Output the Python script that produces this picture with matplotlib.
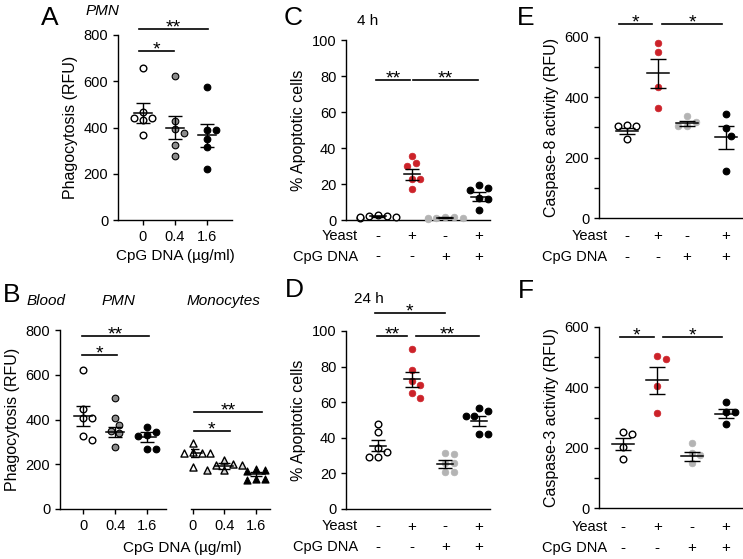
import numpy as np
import matplotlib.pyplot as plt
from matplotlib.transforms import blended_transform_factory

plt.rcParams['font.family'] = ['Liberation Sans', 'DejaVu Sans']
plt.rcParams['axes.linewidth'] = 1.0

W, H = 743, 559

# ---- data ----
CPG_DOSES = ['0', '0.4', '1.6']
YEAST_SIGNS = ['-', '+', '-', '+']
CPG_SIGNS = ['-', '-', '+', '+']

# A: PMN phagocytosis
A_VALUES = [[659, 466, 442, 432, 442, 368],
            [624, 428, 378, 392, 324, 275],
            [574, 389, 389, 349, 316, 220]]
A_MEAN = [463, 400, 366]
A_SEM = [45, 50, 49]

# B: blood PMN / monocytes
B_PMN_VALUES = [[621, 445, 408, 408, 308, 328],
                [495, 405, 375, 350, 340, 278],
                [368, 344, 331, 328, 268, 268]]
B_PMN_MEAN = [417, 346, 323]
B_PMN_SEM = [45, 22, 22]
B_MONO_VALUES = [[294, 255, 249, 249, 249, 189],
                 [219, 200, 197, 197, 174, 174],
                 [178, 175, 170, 135, 132, 130]]
B_MONO_MEAN = [252, 192, 157]
B_MONO_SEM = [18, 12, 10]

# C: % apoptotic cells, 4 h
C_VALUES = [[2.5, 1.5, 2, 1, 1.5, 3],
            [35.5, 31.5, 30, 23, 23, 17.5],
            [1.5, 1, 0.8, 1.2, 1.5, 1],
            [19.5, 18, 16.5, 12, 11.5, 5.5]]
C_MEAN = [2, 25.4, 1.2, 12.8]
C_SEM = [0.5, 3, 0.2, 2.5]

# D: % apoptotic cells, 24 h
D_VALUES = [[47.8, 43, 34, 32, 29, 29],
            [89.9, 78, 72, 69.7, 65.3, 62.5],
            [31.6, 30.7, 25.6, 25.6, 20.6, 20.6],
            [56.5, 55, 52.5, 52, 42, 42]]
D_MEAN = [35.6, 72.8, 25.3, 49.6]
D_SEM = [3.2, 4.2, 2, 2.9]

# E: caspase-8
E_VALUES = [[308, 305, 305, 262],
            [579, 549, 435, 366],
            [338, 319, 306, 306],
            [345, 297, 272, 157]]
E_MEAN = [288, 480, 314, 267]
E_SEM = [10, 48, 8, 38]

# F: caspase-3
F_VALUES = [[253, 245, 203, 163],
            [504, 494, 404, 316],
            [216, 183, 176, 150],
            [352, 319, 319, 278]]
F_MEAN = [212, 424, 172, 312]
F_SEM = [20, 45, 15, 15]

# ---- styles ----
RED = '#cc2229'
OPEN = dict(facecolor='white', edgecolor='black', linewidths=1.0)
GREY_EDGE = dict(facecolor='#8c8c8c', edgecolor='black', linewidths=0.8)
BLACK = dict(facecolor='black', edgecolor='black', linewidths=0.8)
REDF = dict(facecolor=RED, edgecolor=RED, linewidths=0.5)
GREYF = dict(facecolor='#b4b4b4', edgecolor='#b4b4b4', linewidths=0.5)
LIGHT_TRI = dict(facecolor='#d8d8d8', edgecolor='black', linewidths=1.0)

fig = plt.figure(figsize=(W / 100, H / 100), dpi=100)


def make_axes(x0, x1, y_top, y_bot):
    ax = fig.add_axes([x0 / W, 1 - y_bot / H, (x1 - x0) / W, (y_bot - y_top) / H])
    ax.spines['top'].set_visible(False)
    ax.spines['right'].set_visible(False)
    ax.tick_params(axis='both', labelsize=10.5, length=3.5, width=1, direction='out')
    return ax


def swarm(ax, x, vals, diam):
    t = ax.transData
    ys = t.transform(np.column_stack([np.full(len(vals), x), vals]))[:, 1]
    ppu = t.transform((1, 0))[0] - t.transform((0, 0))[0]
    placed = []
    offs = np.zeros(len(vals))
    for i in np.argsort(-ys):
        for k in [0, 1, -1, 2, -2, 3, -3, 4, -4]:
            dx = k * diam * 0.55
            if all((dx - px) ** 2 + (ys[i] - py) ** 2 >= (diam * 0.95) ** 2 for px, py in placed):
                break
        placed.append((dx, ys[i]))
        offs[i] = dx / ppu
    return offs


def draw_groups(ax, positions, values, means, sems, styles, marker='o', size=23,
                half_px=9, cap=5, diam=8):
    ppu = ax.transData.transform((1, 0))[0] - ax.transData.transform((0, 0))[0]
    for x, vals, m, s, st in zip(positions, values, means, sems, styles):
        offs = swarm(ax, x, vals, diam)
        ax.scatter(x + offs, vals, s=size, marker=marker, zorder=3, clip_on=False, **st)
        hw = half_px / ppu
        ax.plot([x - hw, x + hw], [m, m], color='black', lw=1.1, zorder=4)
        ax.errorbar(x, m, yerr=s, color='black', lw=1.0, capsize=cap, capthick=1.0, zorder=4)


def sig(ax, x0, x1, y, stars):
    ax.plot([x0, x1], [y, y], color='black', lw=1.2, clip_on=False)
    ax.annotate(stars, xy=((x0 + x1) / 2, y), xytext=(0, -2.5), textcoords='offset points',
                ha='center', va='baseline', fontsize=14, annotation_clip=False)


def sign_rows(ax, positions, label_x, y_yeast, y_cpg):
    tr = blended_transform_factory(ax.transData, fig.transFigure)
    for lab, yy, signs in [('Yeast', y_yeast, YEAST_SIGNS), ('CpG DNA', y_cpg, CPG_SIGNS)]:
        ax.text(label_x, 1 - yy / H, lab, transform=tr, ha='right', va='center', fontsize=10.5)
        for x, s in zip(positions, signs):
            ax.text(x, 1 - yy / H, s, transform=tr, ha='center', va='center', fontsize=11)


def ftext(x, y, s, size, **kw):
    fig.text(x / W, 1 - y / H, s, fontsize=size, va='baseline', **kw)


# ---- A ----
axA = make_axes(118, 232, 35, 220)
axA.set_xlim(-0.78, 2.78)
axA.set_ylim(0, 800)
axA.set_yticks([0, 200, 400, 600, 800])
axA.set_xticks([0, 1, 2])
axA.set_xticklabels(CPG_DOSES)
axA.set_ylabel('Phagocytosis (RFU)', fontsize=11.5)
axA.set_xlabel('CpG DNA (\u00b5g/ml)', fontsize=11)
draw_groups(axA, [0, 1, 2], A_VALUES, A_MEAN, A_SEM, [OPEN, GREY_EDGE, BLACK])
sig(axA, -0.12, 0.97, 731, '*')
sig(axA, -0.12, 2.03, 826, '**')

# ---- B ----
axB = make_axes(60, 166, 330, 509)
axB.set_xlim(-0.72, 2.59)
axB.set_ylim(0, 800)
axB.set_yticks([0, 200, 400, 600, 800])
axB.set_xticks([0, 1, 2])
axB.set_xticklabels(CPG_DOSES)
axB.set_ylabel('Phagocytosis (RFU)', fontsize=11.5)
draw_groups(axB, [0, 1, 2], B_PMN_VALUES, B_PMN_MEAN, B_PMN_SEM, [OPEN, GREY_EDGE, BLACK])
sig(axB, -0.03, 1.06, 688, '*')
sig(axB, -0.03, 2.06, 775, '**')

axB2 = make_axes(191, 270, 330, 509)
axB2.spines['left'].set_visible(False)
axB2.set_xlim(-0.06, 2.44)
axB2.set_ylim(0, 800)
axB2.set_yticks([])
axB2.set_xticks([0, 1, 2])
axB2.set_xticklabels(CPG_DOSES)
draw_groups(axB2, [0, 1, 2], B_MONO_VALUES, B_MONO_MEAN, B_MONO_SEM,
            [OPEN, LIGHT_TRI, BLACK], marker='^', size=26, half_px=9, cap=4)
sig(axB2, 0.03, 1.17, 349, '*')
sig(axB2, 0.03, 2.19, 435, '**')
ftext(182, 552, 'CpG DNA (\u00b5g/ml)', 11, ha='center')

# ---- C ----
axC = make_axes(346, 490, 40, 220)
axC.set_xlim(-0.95, 3.33)
axC.set_ylim(0, 100)
axC.set_yticks([0, 20, 40, 60, 80, 100])
axC.set_xticks([])
axC.set_ylabel('% Apoptotic cells', fontsize=11.5)
draw_groups(axC, [0, 1, 2, 3], C_VALUES, C_MEAN, C_SEM, [OPEN, REDF, GREYF, BLACK],
            half_px=8)
sig(axC, -0.06, 0.95, 77.8, '**')
sig(axC, 1.04, 2.97, 77.8, '**')
sign_rows(axC, [0, 1, 2, 3], -0.6, 236, 256.5)

# ---- D ----
axD = make_axes(346, 490, 331, 509)
axD.set_xlim(-0.95, 3.33)
axD.set_ylim(0, 100)
axD.set_yticks([0, 20, 40, 60, 80, 100])
axD.set_xticks([])
axD.set_ylabel('% Apoptotic cells', fontsize=11.5)
draw_groups(axD, [0, 1, 2, 3], D_VALUES, D_MEAN, D_SEM, [OPEN, REDF, GREYF, BLACK],
            half_px=8)
sig(axD, -0.09, 1.99, 110, '*')
sig(axD, -0.03, 0.86, 97.2, '**')
sig(axD, 1.13, 3.0, 97.2, '**')
sign_rows(axD, [0, 1, 2, 3], -0.6, 526.5, 547)

# ---- E ----
E_POS = [0, 0.94, 1.82, 3.0]
axE = make_axes(599, 742, 37, 218)
axE.set_xlim(-0.85, 3.48)
axE.set_ylim(0, 600)
axE.set_yticks([0, 200, 400, 600])
axE.set_yticks([100, 300, 500], minor=True)
axE.tick_params(axis='y', which='minor', length=3.5, width=1)
axE.set_xticks([])
axE.set_ylabel('Caspase-8 activity (RFU)', fontsize=11.5)
draw_groups(axE, E_POS, E_VALUES, E_MEAN, E_SEM, [OPEN, REDF, GREYF, BLACK],
            half_px=11, cap=6)
sig(axE, -0.24, 0.76, 642, '*')
sig(axE, 1.06, 2.88, 642, '*')
sign_rows(axE, E_POS, -0.6, 236, 257)

# ---- F ----
axF = make_axes(599, 742, 327, 508)
axF.set_xlim(-0.7, 3.47)
axF.set_ylim(0, 600)
axF.set_yticks([0, 200, 400, 600])
axF.set_yticks([100, 300, 500], minor=True)
axF.tick_params(axis='y', which='minor', length=3.5, width=1)
axF.set_xticks([])
axF.set_ylabel('Caspase-3 activity (RFU)', fontsize=11.5)
draw_groups(axF, [0, 1, 2, 3], F_VALUES, F_MEAN, F_SEM, [OPEN, REDF, GREYF, BLACK],
            half_px=11, cap=6)
sig(axF, -0.09, 0.9, 568, '*')
sig(axF, 1.17, 2.89, 568, '*')
sign_rows(axF, [0, 1, 2, 3], -0.45, 527, 548)

# ---- panel letters and headers ----
ftext(50, 25, 'A', 19, ha='center')
ftext(102, 15, 'PMN', 11, ha='center', style='italic')
ftext(12, 302, 'B', 19, ha='center')
ftext(46, 305, 'Blood', 11, ha='center', style='italic')
ftext(118, 305, 'PMN', 11, ha='center', style='italic')
ftext(223, 305, 'Monocytes', 11, ha='center', style='italic')
ftext(293, 25, 'C', 19, ha='center')
ftext(368, 25, '4 h', 11, ha='center')
ftext(294, 297, 'D', 19, ha='center')
ftext(369, 303, '24 h', 11, ha='center')
ftext(526, 25, 'E', 19, ha='center')
ftext(526, 298, 'F', 19, ha='center')

fig.savefig('out.png', dpi=100)
